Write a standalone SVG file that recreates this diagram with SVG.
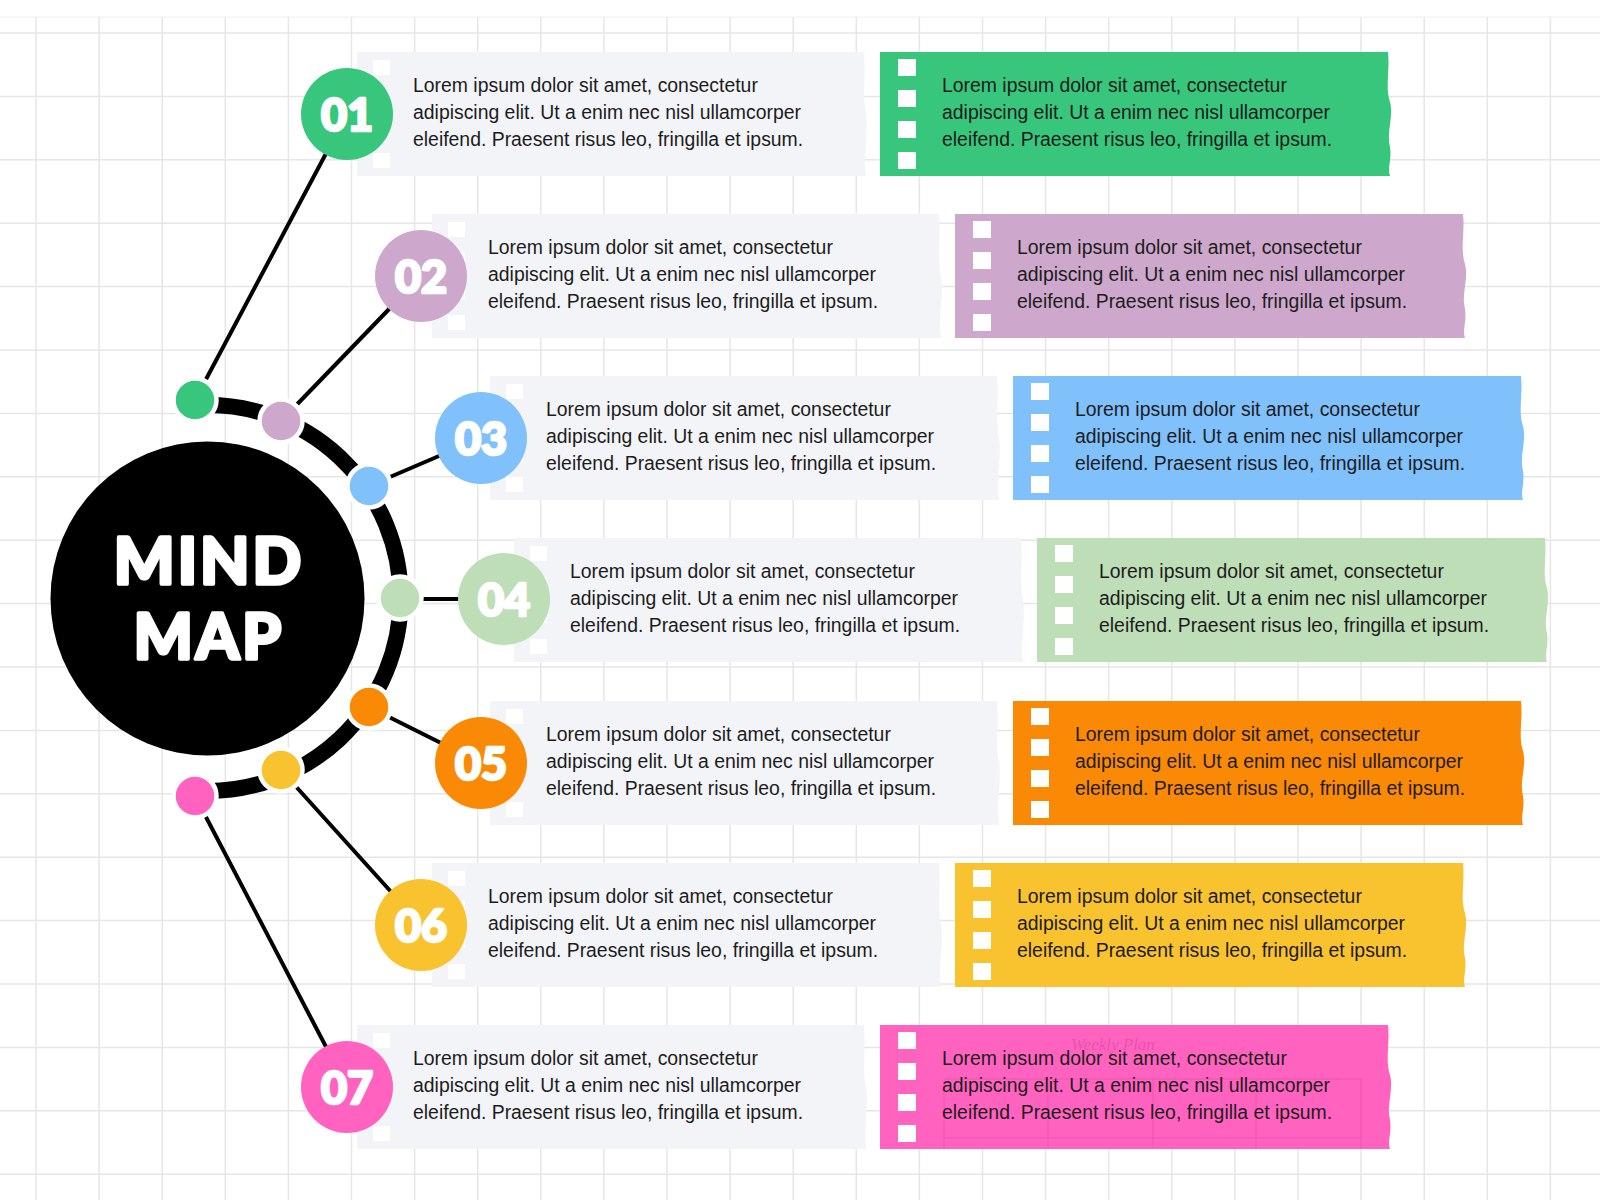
<svg xmlns="http://www.w3.org/2000/svg" xmlns:xlink="http://www.w3.org/1999/xlink" width="1600" height="1200" viewBox="0 0 1600 1200">
<style>
.body{font-family:"Liberation Sans",Arial,sans-serif;font-size:19.4px;fill:#1c1c1c}
.num{font-family:Lato,"Liberation Sans",sans-serif;font-weight:900;font-size:45px;fill:#fff;stroke:#fff;stroke-width:2.6;stroke-linejoin:round;text-anchor:middle}
.title{font-family:Lato,"Liberation Sans",sans-serif;font-weight:900;fill:#fff;stroke:#fff;stroke-width:3.5;stroke-linejoin:round;text-anchor:middle;letter-spacing:3px}
.grid{stroke:#e6e6e6;stroke-width:1.5;fill:none}
.gray{fill:#F3F4F8}
.dot{stroke:#fff;stroke-width:4.5}
.conn{stroke:#000;stroke-width:4;fill:none}
</style>
<defs>
<path id="paper" d="M0,0 H507 C509,25 505,45 509,62 C512,80 506,100 509,124 H0 Z"/>
<path id="tab" d="M0,0 H508 C510,20 505,35 510,50 C514,65 506,80 510,95 C512,108 507,116 510,124 H0 Z"/>
<g id="holes-c" fill="#fff"><rect x="18" y="7" width="18" height="17"/><rect x="18" y="38" width="18" height="17"/><rect x="18" y="69" width="18" height="17"/><rect x="18" y="100" width="18" height="17"/></g>
<g id="holes-g" fill="#fff"><rect x="16" y="8" width="17" height="15"/><rect x="16" y="39" width="17" height="15"/><rect x="16" y="70" width="17" height="15"/><rect x="16" y="101" width="17" height="15"/></g>
</defs>
<rect width="1600" height="1200" fill="#fff"/>
<g id="background">
<path class="grid" d="M36,17V1200M99.1,17V1200M162.2,17V1200M225.3,17V1200M288.4,17V1200M351.5,17V1200M414.6,17V1200M477.7,17V1200M540.8,17V1200M603.9,17V1200M667,17V1200M730.1,17V1200M793.2,17V1200M856.3,17V1200M919.4,17V1200M982.5,17V1200M1045.6,17V1200M1108.7,17V1200M1171.8,17V1200M1234.9,17V1200M1298,17V1200M1361.1,17V1200M1424.2,17V1200M1487.3,17V1200M1550.4,17V1200"/>
<path class="grid" d="M0,33H1600M0,96.4H1600M0,159.8H1600M0,223.2H1600M0,286.6H1600M0,350H1600M0,413.4H1600M0,476.8H1600M0,540.2H1600M0,603.6H1600M0,667H1600M0,730.4H1600M0,793.8H1600M0,857.2H1600M0,920.6H1600M0,984H1600M0,1047.4H1600M0,1110.8H1600M0,1174.2H1600"/>
<path d="M0,17H1600" stroke="#eeeeee" stroke-width="1"/>
</g>
<g id="connectors">
<path d="M195.2,405.4 A193,193 0 1 1 195.2,790.6" stroke="#000" stroke-width="16" fill="none"/>
<line class="conn" x1="195" y1="400" x2="347" y2="114"/>
<line class="conn" x1="281" y1="421" x2="421" y2="276"/>
<line class="conn" x1="369" y1="486" x2="481" y2="438"/>
<line class="conn" x1="400" y1="599" x2="504" y2="599"/>
<line class="conn" x1="369" y1="707" x2="481" y2="763"/>
<line class="conn" x1="281" y1="770" x2="421" y2="925"/>
<line class="conn" x1="195" y1="796" x2="347" y2="1087"/>
</g>
<g id="center">
<circle cx="207.5" cy="598.5" r="157" fill="#000"/>
<text class="title" x="209" y="584" font-size="64">MIND</text>
<text class="title" x="209" y="659" font-size="62">MAP</text>
</g>

<g id="node-01">
<use href="#paper" x="357" y="52" class="gray"/>
<use href="#holes-g" x="357" y="52"/>
<text class="body" x="413" y="92">Lorem ipsum dolor sit amet, consectetur<tspan x="413" dy="27">adipiscing elit. Ut a enim nec nisl ullamcorper</tspan><tspan x="413" dy="27">eleifend. Praesent risus leo, fringilla et ipsum.</tspan></text>
<use href="#tab" x="880" y="52" fill="#38C67C"/>
<use href="#holes-c" x="880" y="52"/>
<text class="body" x="942" y="92">Lorem ipsum dolor sit amet, consectetur<tspan x="942" dy="27">adipiscing elit. Ut a enim nec nisl ullamcorper</tspan><tspan x="942" dy="27">eleifend. Praesent risus leo, fringilla et ipsum.</tspan></text>
<circle class="dot" cx="195" cy="400" r="21.5" fill="#38C67C"/>
<circle cx="347" cy="114" r="46" fill="#38C67C"/>
<text class="num" x="347" y="130.5">01</text>
</g>

<g id="node-02">
<use href="#paper" x="432" y="214" class="gray"/>
<use href="#holes-g" x="432" y="214"/>
<text class="body" x="488" y="254">Lorem ipsum dolor sit amet, consectetur<tspan x="488" dy="27">adipiscing elit. Ut a enim nec nisl ullamcorper</tspan><tspan x="488" dy="27">eleifend. Praesent risus leo, fringilla et ipsum.</tspan></text>
<use href="#tab" x="955" y="214" fill="#CEA8CC"/>
<use href="#holes-c" x="955" y="214"/>
<text class="body" x="1017" y="254">Lorem ipsum dolor sit amet, consectetur<tspan x="1017" dy="27">adipiscing elit. Ut a enim nec nisl ullamcorper</tspan><tspan x="1017" dy="27">eleifend. Praesent risus leo, fringilla et ipsum.</tspan></text>
<circle class="dot" cx="281" cy="421" r="21.5" fill="#CEA8CC"/>
<circle cx="421" cy="276" r="46" fill="#CEA8CC"/>
<text class="num" x="421" y="292.5">02</text>
</g>

<g id="node-03">
<use href="#paper" x="490" y="376" class="gray"/>
<use href="#holes-g" x="490" y="376"/>
<text class="body" x="546" y="416">Lorem ipsum dolor sit amet, consectetur<tspan x="546" dy="27">adipiscing elit. Ut a enim nec nisl ullamcorper</tspan><tspan x="546" dy="27">eleifend. Praesent risus leo, fringilla et ipsum.</tspan></text>
<use href="#tab" x="1013" y="376" fill="#80C1FC"/>
<use href="#holes-c" x="1013" y="376"/>
<text class="body" x="1075" y="416">Lorem ipsum dolor sit amet, consectetur<tspan x="1075" dy="27">adipiscing elit. Ut a enim nec nisl ullamcorper</tspan><tspan x="1075" dy="27">eleifend. Praesent risus leo, fringilla et ipsum.</tspan></text>
<circle class="dot" cx="369" cy="486" r="21.5" fill="#80C1FC"/>
<circle cx="481" cy="438" r="46" fill="#80C1FC"/>
<text class="num" x="481" y="454.5">03</text>
</g>

<g id="node-04">
<use href="#paper" x="514" y="538" class="gray"/>
<use href="#holes-g" x="514" y="538"/>
<text class="body" x="570" y="578">Lorem ipsum dolor sit amet, consectetur<tspan x="570" dy="27">adipiscing elit. Ut a enim nec nisl ullamcorper</tspan><tspan x="570" dy="27">eleifend. Praesent risus leo, fringilla et ipsum.</tspan></text>
<use href="#tab" x="1037" y="538" fill="#BEDEB7"/>
<use href="#holes-c" x="1037" y="538"/>
<text class="body" x="1099" y="578">Lorem ipsum dolor sit amet, consectetur<tspan x="1099" dy="27">adipiscing elit. Ut a enim nec nisl ullamcorper</tspan><tspan x="1099" dy="27">eleifend. Praesent risus leo, fringilla et ipsum.</tspan></text>
<circle class="dot" cx="400" cy="598" r="21.5" fill="#BEDEB7"/>
<circle cx="504" cy="599" r="46" fill="#BEDEB7"/>
<text class="num" x="504" y="615.5">04</text>
</g>

<g id="node-05">
<use href="#paper" x="490" y="701" class="gray"/>
<use href="#holes-g" x="490" y="701"/>
<text class="body" x="546" y="741">Lorem ipsum dolor sit amet, consectetur<tspan x="546" dy="27">adipiscing elit. Ut a enim nec nisl ullamcorper</tspan><tspan x="546" dy="27">eleifend. Praesent risus leo, fringilla et ipsum.</tspan></text>
<use href="#tab" x="1013" y="701" fill="#FA8A05"/>
<use href="#holes-c" x="1013" y="701"/>
<text class="body" x="1075" y="741">Lorem ipsum dolor sit amet, consectetur<tspan x="1075" dy="27">adipiscing elit. Ut a enim nec nisl ullamcorper</tspan><tspan x="1075" dy="27">eleifend. Praesent risus leo, fringilla et ipsum.</tspan></text>
<circle class="dot" cx="369" cy="707" r="21.5" fill="#FA8A05"/>
<circle cx="481" cy="763" r="46" fill="#FA8A05"/>
<text class="num" x="481" y="779.5">05</text>
</g>

<g id="node-06">
<use href="#paper" x="432" y="863" class="gray"/>
<use href="#holes-g" x="432" y="863"/>
<text class="body" x="488" y="903">Lorem ipsum dolor sit amet, consectetur<tspan x="488" dy="27">adipiscing elit. Ut a enim nec nisl ullamcorper</tspan><tspan x="488" dy="27">eleifend. Praesent risus leo, fringilla et ipsum.</tspan></text>
<use href="#tab" x="955" y="863" fill="#F9C22F"/>
<use href="#holes-c" x="955" y="863"/>
<text class="body" x="1017" y="903">Lorem ipsum dolor sit amet, consectetur<tspan x="1017" dy="27">adipiscing elit. Ut a enim nec nisl ullamcorper</tspan><tspan x="1017" dy="27">eleifend. Praesent risus leo, fringilla et ipsum.</tspan></text>
<circle class="dot" cx="281" cy="770" r="21.5" fill="#F9C22F"/>
<circle cx="421" cy="925" r="46" fill="#F9C22F"/>
<text class="num" x="421" y="941.5">06</text>
</g>

<g id="node-07">
<use href="#paper" x="357" y="1025" class="gray"/>
<use href="#holes-g" x="357" y="1025"/>
<text class="body" x="413" y="1065">Lorem ipsum dolor sit amet, consectetur<tspan x="413" dy="27">adipiscing elit. Ut a enim nec nisl ullamcorper</tspan><tspan x="413" dy="27">eleifend. Praesent risus leo, fringilla et ipsum.</tspan></text>
<use href="#tab" x="880" y="1025" fill="#FF63BF"/>
<use href="#holes-c" x="880" y="1025"/>
<g stroke="#d9459c" stroke-opacity="0.45" stroke-width="1" fill="none">
<path d="M944,1079H1361V1148M944,1079V1148M944,1138H1361M1048,1079V1148M1153,1079V1148M1256,1079V1148"/>
</g>
<text x="1071" y="1050" font-family="'Liberation Serif',serif" font-style="italic" font-size="17" fill="#d9459c" fill-opacity="0.6">Weekly Plan</text>
<text class="body" x="942" y="1065">Lorem ipsum dolor sit amet, consectetur<tspan x="942" dy="27">adipiscing elit. Ut a enim nec nisl ullamcorper</tspan><tspan x="942" dy="27">eleifend. Praesent risus leo, fringilla et ipsum.</tspan></text>
<circle class="dot" cx="195" cy="796" r="21.5" fill="#FF63BF"/>
<circle cx="347" cy="1087" r="46" fill="#FF63BF"/>
<text class="num" x="347" y="1103.5">07</text>
</g>
</svg>
